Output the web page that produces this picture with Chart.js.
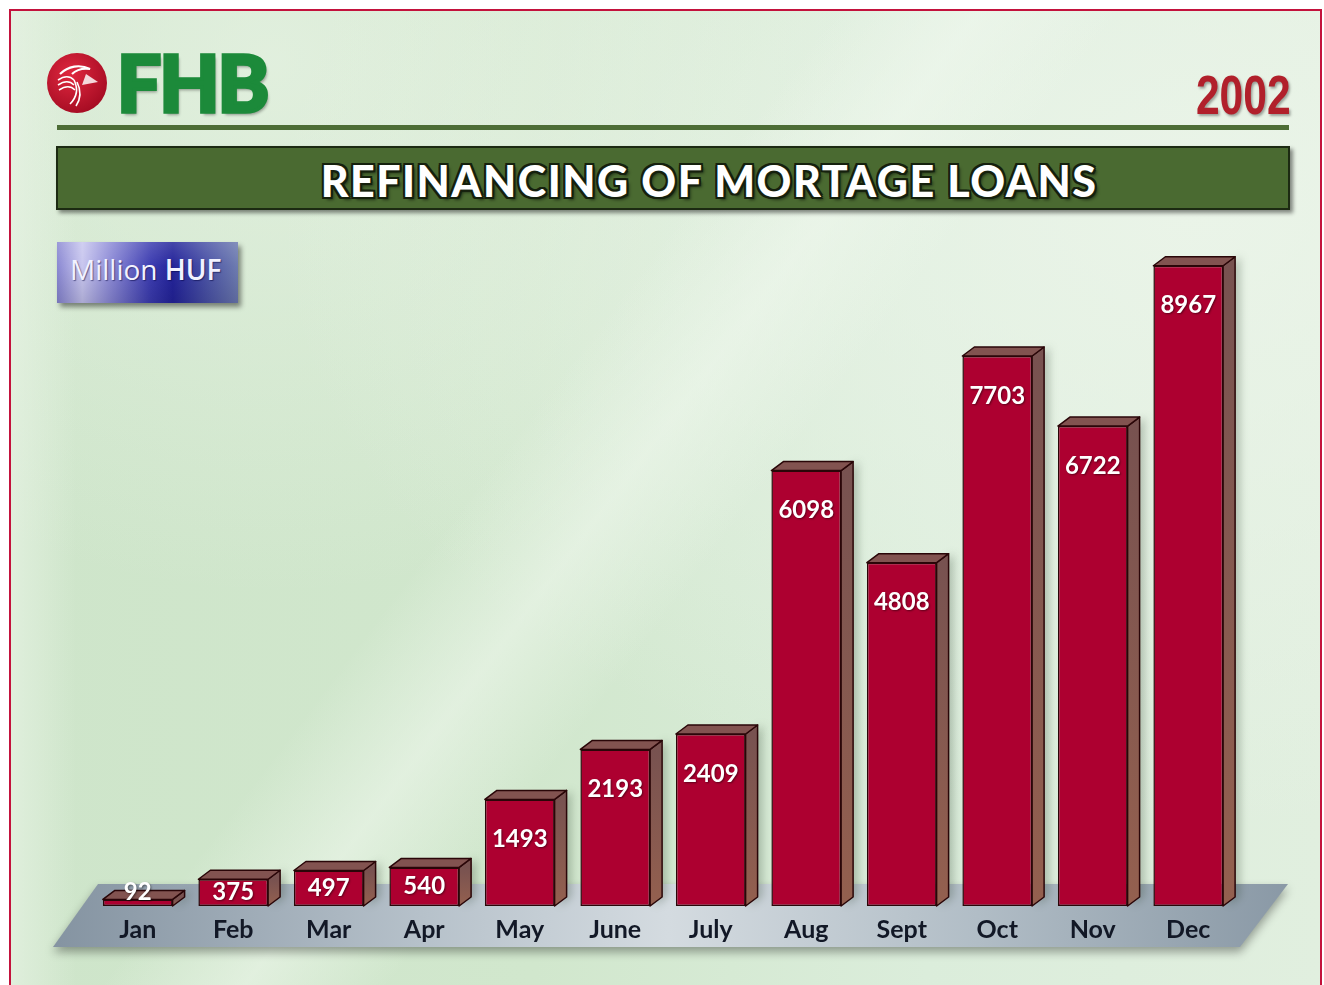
<!DOCTYPE html>
<html>
<head>
<meta charset="utf-8">
<script src="https://cdn.jsdelivr.net/npm/chart.js@4.4.1/dist/chart.umd.min.js"></script>
<style>
  html, body { margin: 0; padding: 0; background: #ffffff; }
  #wrap { position: relative; width: 1324px; height: 985px; overflow: hidden; background: #ffffff; }
  #bg {
    position: absolute; left: 9px; top: 9px; width: 1313px; height: 1000px;
    border: 2px solid #c3123c; box-sizing: border-box;
    background:
      linear-gradient(127deg, rgba(255,255,255,0) 40%, rgba(240,248,238,0.55) 47%, rgba(255,255,255,0) 54%),
      linear-gradient(90deg, rgba(235,245,232,0.6) 0%, rgba(235,245,232,0) 5%),
      radial-gradient(ellipse at 90% 20%, rgba(236,245,234,0.85) 0%, rgba(236,245,234,0) 55%),
      radial-gradient(ellipse at 20% 5%, rgba(232,243,229,0.7) 0%, rgba(232,243,229,0) 40%),
      linear-gradient(90deg, #cee5ca 0%, #d1e7cd 40%, #dbeddb 70%, #e1efdf 100%);
  }
  #chartCanvas { position: absolute; left: 0; top: 0; }
  .logo { position: absolute; left: 46px; top: 52px; width: 62px; height: 62px; }
  .fhb {
    position: absolute; left: 117px; top: 43px; font-family: 'Lato', 'DejaVu Sans', sans-serif;
    font-weight: 900; font-size: 78px; color: #1c8a3a; letter-spacing: -2px;
    -webkit-text-stroke: 3.5px #1c8a3a; text-shadow: 2px 3px 3px rgba(0,0,0,0.35);
    line-height: 1;
  }
  .year {
    position: absolute; right: 33px; top: 67px; font-family: 'Liberation Sans', 'DejaVu Sans', sans-serif;
    font-weight: 700; font-size: 56px; color: #b1202b; line-height: 1;
    text-shadow: 2px 2px 3px rgba(0,0,0,0.35);
    transform: scaleX(0.76); transform-origin: right top;
  }
  .rule { position: absolute; left: 57px; top: 125px; width: 1232px; height: 5px; background: #4d6d36; }
  .banner {
    position: absolute; left: 56px; top: 146px; width: 1234px; height: 64px; box-sizing: border-box;
    background: #4a6a31; border: 2px solid #1c2a12; box-shadow: 3px 3px 4px rgba(0,0,0,0.45);
  }
  .banner span {
    position: absolute; left: 0; right: 0; top: 9px; text-align: center; padding-left: 72px;
    font-family: 'Lato', 'DejaVu Sans', sans-serif; font-weight: 900; font-size: 43px; letter-spacing: 1.5px;
    color: #ffffff; line-height: 1.1;
    text-shadow: -2px -2px 0 #15200d, 2px -2px 0 #15200d, -2px 2px 0 #15200d, 2px 2px 0 #15200d,
                 0 2px 0 #15200d, 2px 0 0 #15200d, 0 -2px 0 #15200d, -2px 0 0 #15200d, 3px 3px 3px rgba(0,0,0,0.5);
  }
  .unit {
    position: absolute; left: 57px; top: 242px; width: 181px; height: 61px;
    background:
      linear-gradient(180deg, rgba(255,255,255,0.15) 0%, rgba(255,255,255,0) 40%, rgba(0,0,40,0.15) 100%),
      linear-gradient(90deg, #8a88d2 0%, #c9c7ef 14%, #8c8ad6 30%, #3c3cb0 52%, #24249a 64%, #4a52a6 82%, #6e7cb0 100%);
    box-shadow: 3px 4px 5px rgba(0,0,0,0.45);
  }
  .unit span {
    position: absolute; left: 13px; top: 11px; font-family: 'Open Sans', 'DejaVu Sans', sans-serif;
    font-size: 28px; color: #f2f2ff; line-height: 1.2; text-shadow: 1px 1px 1px rgba(0,0,60,0.5);
  }
  .unit b { font-weight: 600; }
</style>
</head>
<body>
<div id="wrap">
  <div id="bg"></div>
  <svg class="logo" viewBox="0 0 62 62">
    <defs>
      <radialGradient id="lg" cx="40%" cy="35%" r="70%">
        <stop offset="0%" stop-color="#e0283f"/>
        <stop offset="100%" stop-color="#a40b22"/>
      </radialGradient>
    </defs>
    <circle cx="31" cy="31" r="30" fill="url(#lg)" />
    <path d="M14 22 C22 14, 34 12, 44 17 C36 16, 30 18, 26 22" fill="none" stroke="#fff" stroke-width="2.2"/>
    <path d="M40 22 L52 30 L36 33 Z" fill="#f4d9dc"/>
    <path d="M12 28 C18 24, 24 24, 28 28 M12 33 C18 29, 24 29, 28 33 M13 38 C19 34, 25 34, 29 38" fill="none" stroke="#fff" stroke-width="1.6"/>
    <path d="M28 28 C33 38, 30 46, 24 52 M31 30 C36 40, 34 48, 30 54" fill="none" stroke="#fff" stroke-width="1.6"/>
  </svg>
  <div class="fhb">FHB</div>
  <div class="year">2002</div>
  <div class="rule"></div>
  <div class="banner"><span>REFINANCING OF MORTAGE LOANS</span></div>
  <div class="unit"><span>Million <b>HUF</b></span></div>
  <canvas id="chartCanvas" width="1324" height="985"></canvas>
</div>
<script>
// ---- data ----
const months = ['Jan', 'Feb', 'Mar', 'Apr', 'May', 'June', 'July', 'Aug', 'Sept', 'Oct', 'Nov', 'Dec'];
const loans = [92, 375, 497, 540, 1493, 2193, 2409, 6098, 4808, 7703, 6722, 8967];
const yRange = [0, 10000];

// ---- 3D look plugin ----
const depthX = 12, depthY = 9;
const bar3d = {
  id: 'bar3d',
  beforeDraw(chart) {
    const ctx = chart.ctx;
    const ca = chart.chartArea;
    const base = chart.scales.y.getPixelForValue(0);
    ctx.save();
    const g = ctx.createLinearGradient(ca.left - 40, 0, ca.right + 50, 0);
    g.addColorStop(0, '#8493a1');
    g.addColorStop(0.3, '#b6c1ca');
    g.addColorStop(0.5, '#d4dbe0');
    g.addColorStop(0.75, '#b1bdc6');
    g.addColorStop(1, '#8a99a6');
    ctx.shadowColor = 'rgba(0,0,0,0.35)';
    ctx.shadowBlur = 10;
    ctx.shadowOffsetY = 5;
    ctx.beginPath();
    ctx.moveTo(ca.left + 8, base - 22);
    ctx.lineTo(ca.right + 52, base - 22);
    ctx.lineTo(ca.right + 4, base + 41);
    ctx.lineTo(ca.left - 37, base + 41);
    ctx.closePath();
    ctx.fillStyle = g;
    ctx.fill();
    ctx.restore();
  },
  beforeDatasetsDraw(chart) {
    const ctx = chart.ctx;
    const meta = chart.getDatasetMeta(0);
    meta.data.forEach((bar) => {
      const p = bar.getProps(['x', 'y', 'base', 'width'], true);
      const l = p.x - p.width / 2, r = p.x + p.width / 2;
      ctx.save();
      ctx.lineJoin = 'round';
      ctx.strokeStyle = '#2a0608';
      ctx.lineWidth = 1.5;
      ctx.shadowColor = 'rgba(40,60,40,0.28)';
      ctx.shadowBlur = 8;
      ctx.shadowOffsetX = 5;
      ctx.beginPath();
      ctx.moveTo(r, p.y);
      ctx.lineTo(r + depthX, p.y - depthY);
      ctx.lineTo(r + depthX, p.base - depthY);
      ctx.lineTo(r, p.base);
      ctx.closePath();
      const sg = ctx.createLinearGradient(0, p.y, 0, p.base);
      sg.addColorStop(0, '#785250');
      sg.addColorStop(1, '#94604f');
      ctx.fillStyle = sg;
      ctx.fill();
      ctx.shadowColor = 'transparent';
      ctx.stroke();
      ctx.beginPath();
      ctx.moveTo(l, p.y);
      ctx.lineTo(l + depthX, p.y - depthY);
      ctx.lineTo(r + depthX, p.y - depthY);
      ctx.lineTo(r, p.y);
      ctx.closePath();
      ctx.fillStyle = '#825350';
      ctx.fill();
      ctx.stroke();
      ctx.restore();
    });
  },
  afterDatasetsDraw(chart) {
    const ctx = chart.ctx;
    const meta = chart.getDatasetMeta(0);
    const vals = chart.data.datasets[0].data;
    ctx.save();
    ctx.font = 'bold 24px Lato, "DejaVu Sans", sans-serif';
    ctx.textAlign = 'center';
    ctx.textBaseline = 'middle';
    ctx.fillStyle = '#ffffff';
    ctx.shadowColor = 'rgba(0,0,0,0.45)';
    ctx.shadowBlur = 2;
    ctx.shadowOffsetX = 1;
    ctx.shadowOffsetY = 1;
    meta.data.forEach((bar, i) => {
      const p = bar.getProps(['x', 'y', 'base'], true);
      const ty = Math.min(p.y + 40, (p.y + p.base) / 2, p.base - 14);
      ctx.fillText(String(vals[i]), p.x, ty);
    });
    ctx.restore();
  }
};

new Chart(document.getElementById('chartCanvas'), {
  type: 'bar',
  data: {
    labels: months,
    datasets: [{
      data: loans,
      backgroundColor: '#ad0030',
      borderColor: '#2a0608',
      borderWidth: 1.5,
      borderSkipped: false,
      barPercentage: 0.73,
      categoryPercentage: 1.0
    }]
  },
  options: {
    responsive: false,
    animation: false,
    devicePixelRatio: 1,
    layout: { padding: { left: 90, right: 88, top: 192, bottom: 0 } },
    plugins: { legend: { display: false }, tooltip: { enabled: false }, title: { display: false } },
    scales: {
      x: {
        grid: { display: false, drawTicks: false },
        border: { display: false },
        ticks: {
          color: '#121826',
          font: { family: 'Lato, "DejaVu Sans", sans-serif', size: 25, weight: 'bold' },
          padding: 9
        },
        afterFit(scale) { scale.height = 79; }
      },
      y: { display: false, min: yRange[0], max: yRange[1] }
    }
  },
  plugins: [bar3d]
});
</script>
</body>
</html>
